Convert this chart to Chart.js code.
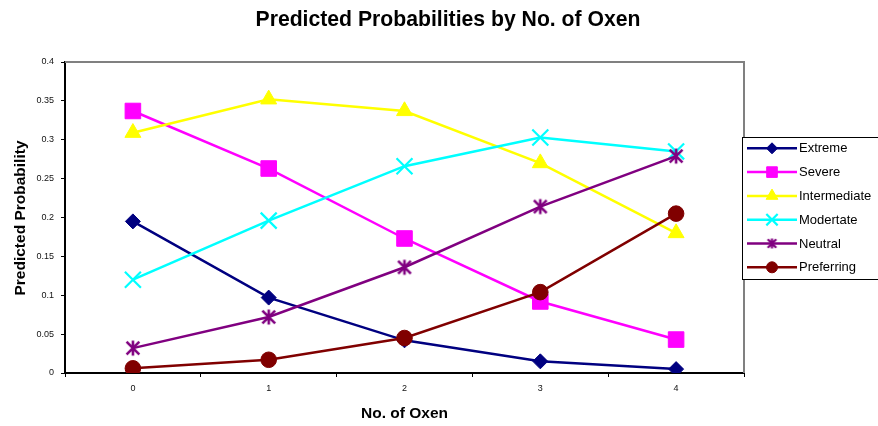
<!DOCTYPE html>
<html>
<head>
<meta charset="utf-8">
<style>
  html, body { margin: 0; padding: 0; background: #fff; }
  canvas { display: block; }
</style>
<script src="https://cdn.jsdelivr.net/npm/chart.js@4/dist/chart.umd.min.js"></script>
</head>
<body>
<canvas id="chart" width="878" height="426"></canvas>
<script>
// Categories (number of oxen) and predicted probabilities per preference group
const oxen = ['0', '1', '2', '3', '4'];
const extreme      = [0.195, 0.097, 0.042, 0.015, 0.005];
const severe       = [0.337, 0.263, 0.173, 0.092, 0.043];
const intermediate = [0.309, 0.352, 0.337, 0.270, 0.180];
const moderate     = [0.120, 0.196, 0.266, 0.303, 0.285];
const neutral      = [0.032, 0.072, 0.136, 0.214, 0.279];
const preferring   = [0.006, 0.017, 0.045, 0.104, 0.205];
const seriesNames  = ['Extreme', 'Severe', 'Intermediate', 'Modertate', 'Neutral', 'Preferring'];

const chartTitle = 'Predicted Probabilities by No. of Oxen';
const xTitle = 'No. of Oxen';
const yTitle = 'Predicted Probability';

const FONT = '"Liberation Sans", Arial, Helvetica, sans-serif';

// Asterisk marker (an X crossed by a vertical bar)
function asterisk(size, color, lw) {
  const c = document.createElement('canvas');
  c.width = size; c.height = size;
  const g = c.getContext('2d');
  const m = size / 2, a = size / 2 - 1.5, d = a * 0.85;
  g.strokeStyle = color; g.lineWidth = lw; g.lineCap = 'butt';
  g.beginPath();
  g.moveTo(m - d, m - d); g.lineTo(m + d, m + d);
  g.moveTo(m + d, m - d); g.lineTo(m - d, m + d);
  g.moveTo(m, m - a); g.lineTo(m, m + a);
  g.stroke();
  return c;
}

const styles = [
  { color: '#000080', point: 'rectRot',  r: 7.5,  lr: 5.5, bw: 1 },
  { color: '#FF00FF', point: 'rect',     r: 11,   lr: 7.5, bw: 1 },
  { color: '#FFFF00', point: 'triangle', r: 9.2,  lr: 6.8, bw: 1 },
  { color: '#00FFFF', point: 'crossRot', r: 11.3, lr: 8,   bw: 2.2 },
  { color: '#800080', point: asterisk(18, '#800080', 2.6), legendPoint: asterisk(13, '#800080', 2.2), r: 8, lr: 6, bw: 1 },
  { color: '#800000', point: 'circle',   r: 7.8,  lr: 5.5, bw: 1 }
];
const seriesValues = [extreme, severe, intermediate, moderate, neutral, preferring];

const datasets = seriesNames.map((name, i) => ({
  label: name,
  data: seriesValues[i],
  borderColor: styles[i].color,
  backgroundColor: styles[i].color,
  borderWidth: 2.5,
  pointStyle: styles[i].point,
  pointRadius: styles[i].r,
  pointBorderWidth: styles[i].bw,
  pointBorderColor: styles[i].color,
  pointBackgroundColor: styles[i].color,
  tension: 0,
  fill: false,
  order: seriesNames.length - i
}));

// Titles, plot frame and legend box
const decorations = {
  id: 'decorations',
  afterDraw(chart) {
    const ctx = chart.ctx;
    const a = chart.chartArea;
    ctx.save();

    // grey top/right frame of the plot area
    ctx.strokeStyle = '#808080';
    ctx.lineWidth = 2;
    ctx.beginPath();
    ctx.moveTo(a.left, a.top);
    ctx.lineTo(a.right, a.top);
    ctx.lineTo(a.right, a.bottom);
    ctx.stroke();

    ctx.fillStyle = '#000';
    ctx.textAlign = 'center';
    ctx.textBaseline = 'alphabetic';
    ctx.font = 'bold 21.2px ' + FONT;
    ctx.fillText(chartTitle, 448, 26);

    ctx.font = 'bold 15.5px ' + FONT;
    ctx.fillText(xTitle, (a.left + a.right) / 2, 418);

    ctx.save();
    ctx.translate(25, 218);
    ctx.rotate(-Math.PI / 2);
    ctx.fillText(yTitle, 0, 0);
    ctx.restore();

    // legend
    const lx = 742.5, ly = 137.5, lw = 150, lh = 142;
    ctx.fillStyle = '#fff';
    ctx.fillRect(lx, ly, lw, lh);
    ctx.strokeStyle = '#000';
    ctx.lineWidth = 1;
    ctx.strokeRect(lx, ly, lw, lh);

    ctx.font = '13px ' + FONT;
    ctx.textAlign = 'left';
    ctx.textBaseline = 'middle';
    seriesNames.forEach((name, i) => {
      const y = 148.3 + i * 23.8;
      const s = styles[i];
      ctx.strokeStyle = s.color;
      ctx.lineWidth = 2.5;
      ctx.beginPath();
      ctx.moveTo(747, y);
      ctx.lineTo(797, y);
      ctx.stroke();
      ctx.fillStyle = s.color;
      ctx.strokeStyle = s.color;
      ctx.lineWidth = s.bw;
      Chart.helpers.drawPoint(ctx, {
        pointStyle: s.legendPoint || s.point,
        radius: s.lr,
        rotation: 0,
        borderWidth: s.bw
      }, 772, y);
      ctx.fillStyle = '#000';
      ctx.fillText(name, 799, y + 0.5);
    });
    ctx.restore();
  }
};

new Chart(document.getElementById('chart'), {
  type: 'line',
  data: { labels: oxen, datasets },
  plugins: [decorations],
  options: {
    responsive: false,
    devicePixelRatio: 1,
    animation: false,
    events: [],
    layout: { padding: { top: 62, right: 134, left: 0, bottom: 0 } },
    plugins: {
      legend: { display: false },
      title: { display: false },
      tooltip: { enabled: false }
    },
    scales: {
      x: {
        type: 'category',
        offset: true,
        grid: { display: true, drawOnChartArea: false, drawTicks: true, tickLength: 4, color: '#000', lineWidth: 1, offset: true },
        border: { display: true, color: '#000', width: 2 },
        ticks: { color: '#111', font: { family: FONT, size: 9 }, padding: 6, maxRotation: 0, autoSkip: false },
        afterFit(scale) { scale.height = 53; }
      },
      y: {
        min: 0,
        max: 0.4,
        grid: { display: true, drawOnChartArea: false, drawTicks: true, tickLength: 4, color: '#000', lineWidth: 1 },
        border: { display: true, color: '#000', width: 2 },
        ticks: {
          stepSize: 0.05,
          color: '#111',
          font: { family: FONT, size: 9 },
          padding: 7,
          callback: v => String(+v.toFixed(2))
        },
        afterFit(scale) { scale.width = 65; }
      }
    }
  }
});
</script>
</body>
</html>
